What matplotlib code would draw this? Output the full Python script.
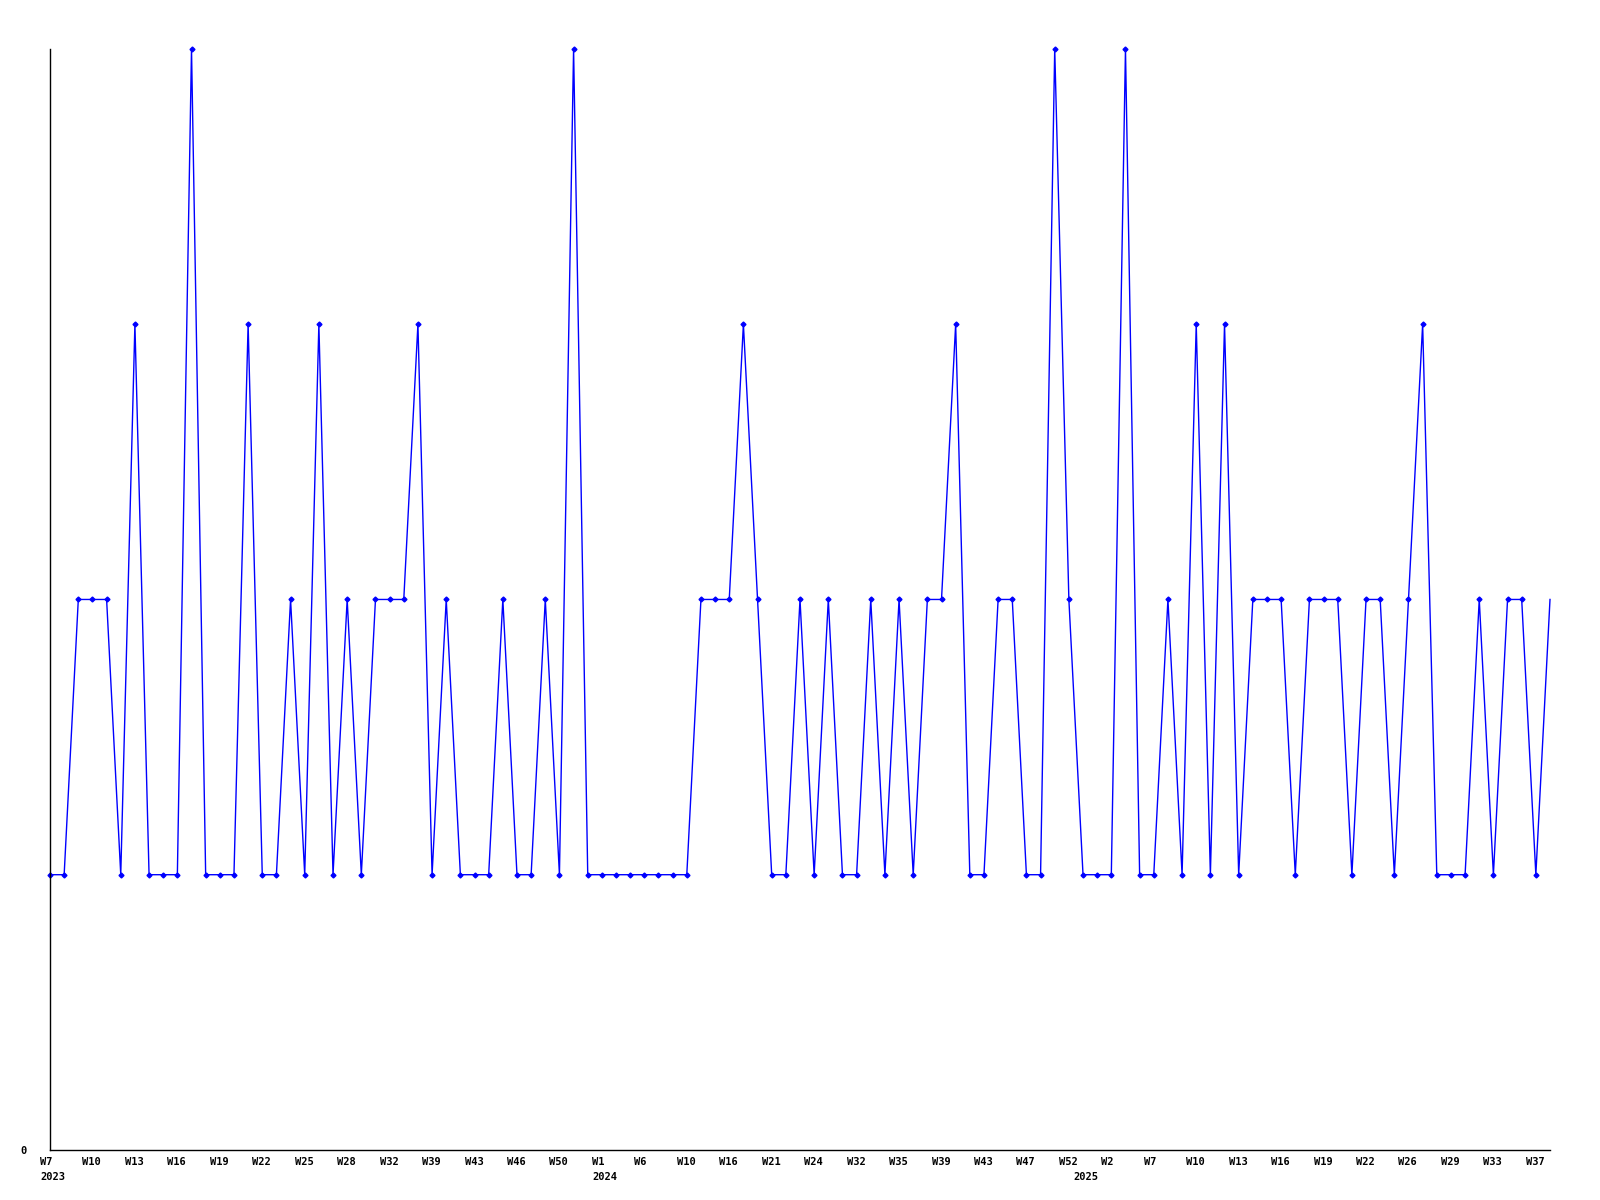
import matplotlib
matplotlib.use("Agg")
import matplotlib.pyplot as plt
import matplotlib.transforms as mtransforms
import numpy as np

# weekly counts, one per point (equally spaced)
counts = [
	1, 1, 2, 2, 2, 1, 3, 1, 1, 1, 4, 1, 1, 1, 3, 1, 1, 2, 1, 3,
	1, 2, 1, 2, 2, 2, 3, 1, 2, 1, 1, 1, 2, 1, 1, 2, 1, 4, 1, 1,
	1, 1, 1, 1, 1, 1, 2, 2, 2, 3, 2, 1, 1, 2, 1, 2, 1, 1, 2, 1,
	2, 1, 2, 2, 3, 1, 1, 2, 2, 1, 1, 4, 2, 1, 1, 1, 4, 1, 1, 2,
	1, 3, 1, 3, 1, 2, 2, 2, 1, 2, 2, 2, 1, 2, 2, 1, 2, 3, 1, 1,
	1, 2, 1, 2, 2, 1, 2,
]

# one label every third point
week_labels = [
	"W7", "W10", "W13", "W16", "W19", "W22", "W25", "W28", "W32", "W39",
	"W43", "W46", "W50", "W1", "W6", "W10", "W16", "W21", "W24", "W32",
	"W35", "W39", "W43", "W47", "W52", "W2", "W7", "W10", "W13", "W16",
	"W19", "W22", "W26", "W29", "W33", "W37",
]
label_step = 3

year_pos = [0, 39, 73]
year_labels = ["2023", "2024", "2025"]

x = np.arange(len(counts))

fig = plt.figure(figsize=(16, 12), dpi=100)
ax = fig.add_axes([0.03125, 0.0417, 0.9375, 0.9175])

ax.plot(x, counts, color="#0000ff", linewidth=1.0, marker="D", markersize=2.5,
	markevery=list(range(len(counts) - 1)), clip_on=False)

ax.set_xlim(0, len(counts) - 1)
ax.set_ylim(0, 4)

for side in ["top", "right"]:
	ax.spines[side].set_visible(False)
for side in ["left", "bottom"]:
	ax.spines[side].set_linewidth(1.0)

ax.set_xticks([])
ax.set_yticks([0])
ax.set_yticklabels(["0"], family="DejaVu Sans Mono", fontweight="bold", fontsize=7.5)
ax.tick_params(axis="y", length=0, pad=17)

shift = mtransforms.ScaledTranslation(-10 / 100, 0, fig.dpi_scale_trans)
trans = mtransforms.blended_transform_factory(ax.transData, ax.transAxes) + shift

tick_pos = x[::label_step]
for pos, lab in zip(tick_pos, week_labels):
	ax.text(pos, -0.0068, lab, transform=trans, ha="left", va="top",
		family="DejaVu Sans Mono", fontweight="bold", fontsize=7.5)

for pos, lab in zip(year_pos, year_labels):
	ax.text(pos, -0.02, lab, transform=trans, ha="left", va="top",
		family="DejaVu Sans Mono", fontweight="bold", fontsize=7.5)

fig.savefig("out.png", dpi=100)
